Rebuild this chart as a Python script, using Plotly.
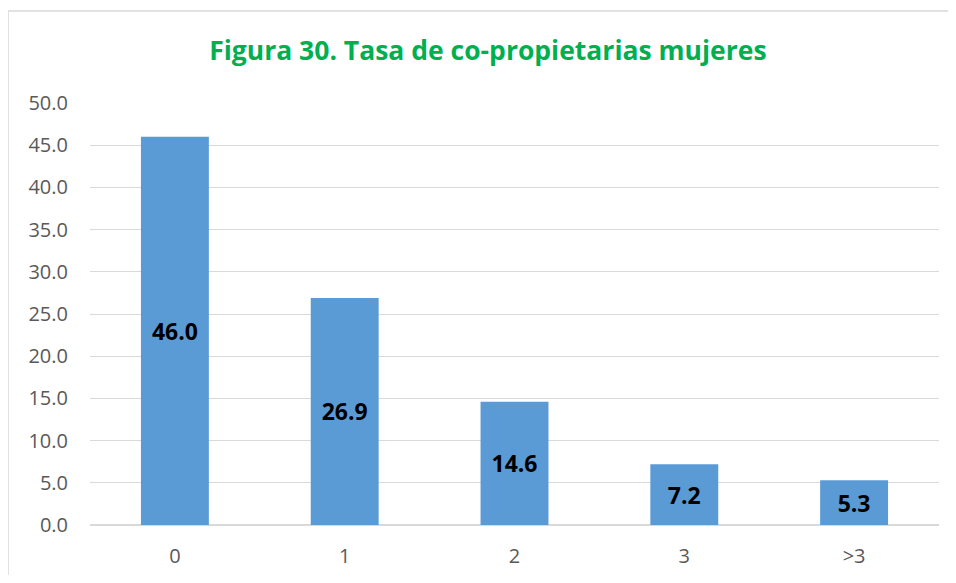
import plotly.graph_objects as go

categories = ["0", "1", "2", "3", ">3"]
values = [46.0, 26.9, 14.6, 7.2, 5.3]
labels = [f"{v:.1f}" for v in values]
title_text = "Figura 30. Tasa de co-propietarias mujeres"

fig = go.Figure(go.Bar(
    x=categories, y=values, text=labels,
    textposition="inside", insidetextanchor="middle",
    textfont=dict(family="Open Sans", size=23, color="#000000", weight="bold"),
    marker=dict(color="#5B9BD5", line=dict(width=0)),
    width=0.4, cliponaxis=False,
))

fig.update_layout(
    width=940, height=567,
    margin=dict(l=82, r=9, t=95, b=50, autoexpand=False),
    paper_bgcolor="white", plot_bgcolor="white",
    title=dict(text=title_text, x=0.5105, xanchor="center", y=1 - 43 / 567, yanchor="middle",
               font=dict(family="Open Sans", size=26.5, color="#00B050", weight="bold")),
    showlegend=False,
    bargap=0.6,
    font=dict(family="Open Sans", color="#595959"),
)
fig.update_yaxes(range=[0, 50], dtick=5, tickformat=".1f", showgrid=True,
                 gridcolor="#D9D9D9", gridwidth=1, zeroline=True, zerolinecolor="#D9D9D9",
                 tickfont=dict(size=20, color="#595959"), ticks="", showline=False,
                 ticklabelstandoff=21)
fig.update_xaxes(showgrid=False, showline=False, ticks="",
                 tickfont=dict(size=20, color="#595959"), ticklabelstandoff=17)

# chart-area border: only the left and top edges are visible in the reference
bx0 = (8 - 90) / 849
by1 = 1 + 92 / 422
fig.add_shape(type="line", xref="paper", yref="paper", x0=bx0, x1=bx0, y0=-0.5, y1=by1,
              line=dict(color="#D9D9D9", width=1.5), layer="below")
fig.add_shape(type="line", xref="paper", yref="paper", x0=bx0, x1=1.5, y0=by1, y1=by1,
              line=dict(color="#D9D9D9", width=1.5), layer="below")

fig.write_html("out.html")
